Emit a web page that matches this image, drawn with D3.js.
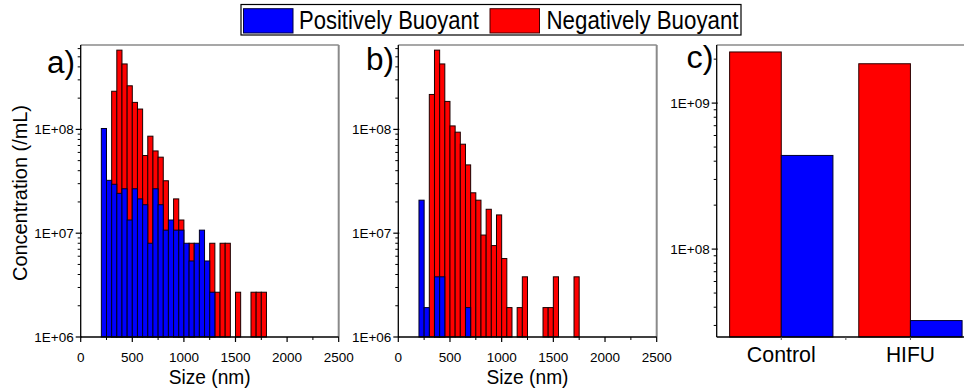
<!DOCTYPE html>
<html>
<head>
<meta charset="utf-8">
<script src="https://cdn.jsdelivr.net/npm/d3@7"></script>
<style>
  html, body { margin: 0; padding: 0; background: #fff; }
  svg { display: block; font-family: "Liberation Sans", Arial, sans-serif; }
</style>
</head>
<body>
<svg id="chart" width="964" height="389"></svg>
<script>
// Histogram bins (lower edge, nm); every bin is 50 nm wide
const binStarts = [200, 250, 300, 350, 400, 450, 500, 550, 600, 650, 700, 750, 800, 850, 900, 950,
                   1000, 1050, 1100, 1150, 1200, 1250, 1300, 1350, 1400, 1450, 1500, 1550, 1600, 1650, 1700, 1750];
const binWidth = 50;

// a) concentration per bin (/mL)
const posA = [1.02e8, 3.23e7, 2.96e7, 2.42e7, 2.68e7, 1.34e7, 2.68e7, 2.14e7, 1.88e7, 8.0e6, 2.68e7, 1.88e7, 1.07e7, 1.34e7, 1.07e7, 1.07e7,
              8.0e6, 5.4e6, 8.0e6, 1.07e7, 5.4e6, 2.7e6, null, null, null, null, null, null, null, null, null, null];
const negA = [null, null, 2.33e8, 5.8e8, 4.27e8, 2.63e8, 1.82e8, 1.57e8, 5.6e7, 8.6e7, 6.2e7, 5.4e7, 3.2e7, null, 2.14e7, 1.34e7,
              null, 8.0e6, null, null, null, 8.0e6, 2.7e6, 8.0e6, 8.0e6, null, 2.7e6, null, null, 2.7e6, 2.7e6, 2.7e6];

// b) concentration per bin (/mL)
const posB = [2.08e7, 1.92e6, null, 3.8e6, 3.8e6, null, null, null, null, 1.92e6, null, null, null, null, null, null,
              null, null, null, null, null, null, null, null, null, null, null, null, null, null, null, null];
const negB = [null, null, 2.17e8, 5.8e8, 4.27e8, 1.86e8, 1.08e8, 9.4e7, 7.2e7, 4.55e7, 2.45e7, 2.08e7, 9.6e6, 1.7e7, 7.6e6, 1.5e7,
              5.7e6, 1.92e6, null, 1.92e6, 3.8e6, null, null, null, 1.92e6, 1.92e6, 3.8e6, null, null, null, 3.8e6, null];

// c) total concentration per sample
const samples = ["Control", "HIFU"];
const negTotal = [2.24e9, 1.86e9];
const posTotal = [4.38e8, 3.24e7];

const sizeTicks = [0, 500, 1000, 1500, 2000, 2500];
const histTicks = [1e6, 1e7, 1e8];
const totalTicks = [1e8, 1e9];
const seriesNames = ["Positively Buoyant", "Negatively Buoyant"];

const BLUE = "#0000ff", RED = "#ff0000", FRAME = "#8a8a8a";

const svg = d3.select("#chart");
const plotTop = 45, plotBottom = 337;
const expLabel = v => "1E+" + String(Math.round(Math.log10(v))).padStart(2, "0");

function logAxis(g, y, x0, majors, domain) {
  // minor ticks at every 2..9 multiple within the domain
  const minors = [];
  for (let e = Math.floor(Math.log10(domain[0])); e <= Math.ceil(Math.log10(domain[1])); e++) {
    for (let m = 2; m <= 9; m++) {
      const v = m * Math.pow(10, e);
      if (v >= domain[0] && v <= domain[1]) minors.push(v);
    }
  }
  g.selectAll(".ymin").data(minors).join("line")
    .attr("x1", x0 - 3).attr("x2", x0).attr("y1", d => y(d)).attr("y2", d => y(d))
    .attr("stroke", "#000").attr("stroke-width", 1);
  g.selectAll(".ymaj").data(majors).join("line")
    .attr("x1", x0 - 5).attr("x2", x0 + 1).attr("y1", d => y(d)).attr("y2", d => y(d))
    .attr("stroke", "#000").attr("stroke-width", 1.2);
  g.selectAll(".ylab").data(majors).join("text")
    .attr("x", x0 - 7).attr("y", d => y(d)).attr("dy", "0.36em")
    .attr("text-anchor", "end").attr("font-size", 13.5).attr("fill", "#000")
    .text(expLabel);
}

function histPanel(x0, x1, neg, pos, letter, letterPos) {
  const g = svg.append("g");
  const x = d3.scaleLinear().domain([0, 2500]).range([x0, x1]);
  const y = d3.scaleLog().domain([1e6, 6.5e8]).range([plotBottom, plotTop]);

  // gray frame top/right
  g.append("line").attr("x1", x0).attr("x2", x1).attr("y1", plotTop).attr("y2", plotTop)
    .attr("stroke", FRAME).attr("stroke-width", 1.6);
  g.append("line").attr("x1", x1).attr("x2", x1).attr("y1", plotTop).attr("y2", plotBottom)
    .attr("stroke", FRAME).attr("stroke-width", 2);

  const draw = (vals, fill, stroke) => {
    const data = binStarts.map((b, i) => ({ b, v: vals[i] })).filter(d => d.v != null);
    g.append("g").selectAll("rect").data(data).join("rect")
      .attr("x", d => x(d.b)).attr("width", d => x(d.b + binWidth) - x(d.b))
      .attr("y", d => y(d.v)).attr("height", d => plotBottom - y(d.v))
      .attr("fill", fill).attr("stroke", stroke).attr("stroke-width", 1);
  };
  draw(neg, RED, "#1a0000");
  draw(pos, BLUE, "#000020");

  // axes
  g.append("line").attr("x1", x0).attr("x2", x0).attr("y1", plotTop).attr("y2", plotBottom)
    .attr("stroke", "#000").attr("stroke-width", 1.3);
  g.append("line").attr("x1", x0).attr("x2", x1).attr("y1", plotBottom).attr("y2", plotBottom)
    .attr("stroke", "#000").attr("stroke-width", 1.3);
  logAxis(g, y, x0, histTicks, y.domain());

  const minorX = d3.range(250, 2500, 500);
  g.selectAll(".xmin").data(minorX).join("line")
    .attr("x1", d => x(d)).attr("x2", d => x(d)).attr("y1", plotBottom).attr("y2", plotBottom + 3)
    .attr("stroke", "#000");
  g.selectAll(".xmaj").data(sizeTicks).join("line")
    .attr("x1", d => x(d)).attr("x2", d => x(d)).attr("y1", plotBottom).attr("y2", plotBottom + 5)
    .attr("stroke", "#000").attr("stroke-width", 1.2);
  g.selectAll(".xlab").data(sizeTicks).join("text")
    .attr("x", d => x(d)).attr("y", 362).attr("text-anchor", "middle")
    .attr("font-size", 13.5).text(d => d);

  g.append("text").attr("x", (x0 + x1) / 2).attr("y", 384).attr("text-anchor", "middle")
    .attr("font-size", 21).attr("textLength", 82).attr("lengthAdjust", "spacingAndGlyphs")
    .text("Size (nm)");

  g.append("text").attr("x", letterPos[0]).attr("y", letterPos[1])
    .attr("font-size", 31).attr("textLength", 28).attr("lengthAdjust", "spacingAndGlyphs")
    .text(letter);
  return g;
}

histPanel(80.7, 338.7, negA, posA, "a)", [47, 73]);
histPanel(398.3, 656.7, negB, posB, "b)", [366, 70]);

// y title
svg.append("text").attr("transform", "translate(27,193) rotate(-90)")
  .attr("text-anchor", "middle").attr("font-size", 19.5)
  .attr("textLength", 176).attr("lengthAdjust", "spacingAndGlyphs")
  .text("Concentration (/mL)");

// c) totals
(function () {
  const x0 = 716.7, x1 = 975;
  const g = svg.append("g");
  const x = d3.scaleLinear().domain([0.5, 2.5]).range([x0, x1]);
  const y = d3.scaleLog().domain([2.5e7, 2.5e9]).range([plotBottom, plotTop]);
  const bw = 0.4;

  g.append("line").attr("x1", x0).attr("x2", x1).attr("y1", plotTop).attr("y2", plotTop)
    .attr("stroke", FRAME).attr("stroke-width", 1.6);

  const rows = samples.map((s, i) => ({ i: i + 1, s, neg: negTotal[i], pos: posTotal[i] }));
  g.selectAll(".neg").data(rows).join("rect")
    .attr("x", d => x(d.i - bw)).attr("width", d => x(d.i) - x(d.i - bw))
    .attr("y", d => y(d.neg)).attr("height", d => plotBottom - y(d.neg))
    .attr("fill", RED).attr("stroke", "#2a0000").attr("stroke-width", 1);
  g.selectAll(".pos").data(rows).join("rect")
    .attr("x", d => x(d.i)).attr("width", d => x(d.i + bw) - x(d.i))
    .attr("y", d => y(d.pos)).attr("height", d => plotBottom - y(d.pos))
    .attr("fill", BLUE).attr("stroke", "#000030").attr("stroke-width", 1);

  g.append("line").attr("x1", x0).attr("x2", x0).attr("y1", plotTop).attr("y2", plotBottom)
    .attr("stroke", "#000").attr("stroke-width", 1.3);
  g.append("line").attr("x1", x0).attr("x2", x1).attr("y1", plotBottom).attr("y2", plotBottom)
    .attr("stroke", "#000").attr("stroke-width", 1.3);
  logAxis(g, y, x0, totalTicks, y.domain());

  g.selectAll(".xt").data([1, 1.5, 2]).join("line")
    .attr("x1", d => x(d)).attr("x2", d => x(d)).attr("y1", plotBottom).attr("y2", plotBottom + 3)
    .attr("stroke", "#555");
  const widths = { Control: 69, HIFU: 49 };
  g.selectAll(".cl").data(rows).join("text")
    .attr("x", d => x(d.i)).attr("y", 362).attr("text-anchor", "middle")
    .attr("font-size", 22).attr("textLength", d => widths[d.s]).attr("lengthAdjust", "spacingAndGlyphs")
    .text(d => d.s);

  g.append("text").attr("x", 686.5).attr("y", 68)
    .attr("font-size", 31).attr("textLength", 27).attr("lengthAdjust", "spacingAndGlyphs")
    .text("c)");
})();

// legend
(function () {
  const g = svg.append("g");
  g.append("rect").attr("x", 241).attr("y", 4.5).attr("width", 500).attr("height", 30.5)
    .attr("fill", "#fff").attr("stroke", "#000").attr("stroke-width", 1.2);
  const items = [
    { name: seriesNames[0], fill: BLUE, stroke: "#000040", sx: 243.5, tx: 299, tw: 180 },
    { name: seriesNames[1], fill: RED, stroke: "#400000", sx: 490, tx: 546.5, tw: 192 }
  ];
  items.forEach(it => {
    g.append("rect").attr("x", it.sx).attr("y", 8.7).attr("width", 49.5).attr("height", 24.3)
      .attr("fill", it.fill).attr("stroke", it.stroke).attr("stroke-width", 1);
    g.append("text").attr("x", it.tx).attr("y", 29.3).attr("font-size", 25)
      .attr("textLength", it.tw).attr("lengthAdjust", "spacingAndGlyphs").text(it.name);
  });
})();
</script>
</body>
</html>
